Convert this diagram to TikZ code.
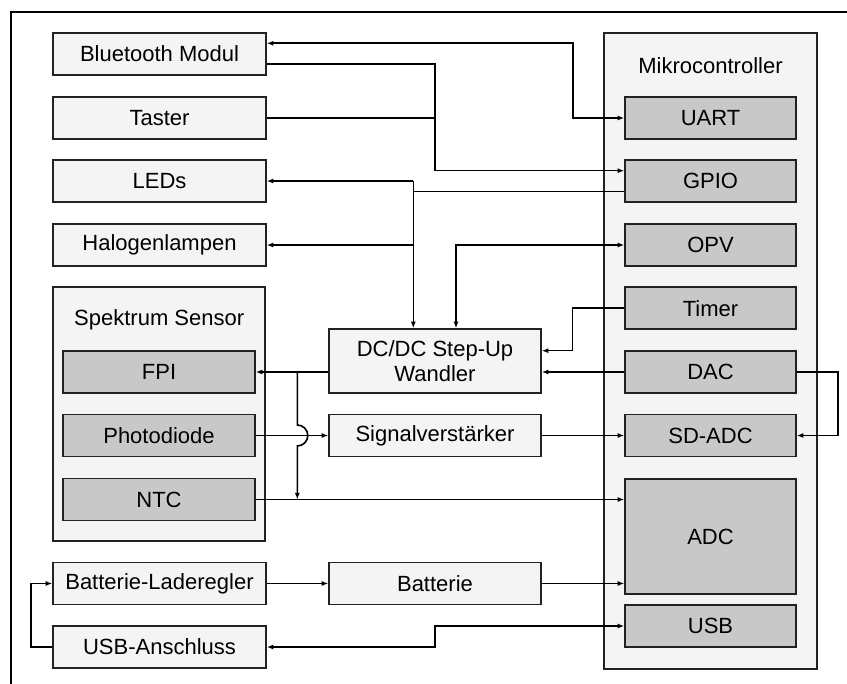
\documentclass[tikz,border=0pt]{standalone}
\usepackage{fontspec}
\setmainfont{Liberation Sans}
\usetikzlibrary{arrows.meta}
\definecolor{boxfill}{HTML}{F4F4F4}
\definecolor{partfill}{HTML}{C8C8C8}
\definecolor{edge}{HTML}{222222}
\begin{document}
\begin{tikzpicture}[x=1pt, y=1pt,
    every node/.style={font=\fontsize{22}{24.5}\selectfont},
    box/.style={draw=edge, line width=1.6pt, fill=boxfill, minimum width=213pt,
      minimum height=42pt, inner sep=0pt, align=center},
    part/.style={box, fill=partfill, minimum width=171pt},
    wire/.style={line width=1.6pt, >={Latex[length=6.5pt,width=5pt]}}]
  \useasboundingbox (0,0) rectangle (847,-684);
  % frame
  \draw[line width=2.4pt] (11,-684) -- (11,-12) -- (847,-12);

  % left column
  \foreach \name/\txt/\y in {bt/Bluetooth Modul/54, taster/Taster/118,
      leds/LEDs/181, halo/Halogenlampen/245, lade/Batterie-Laderegler/583.5,
      usbc/USB-Anschluss/647}
    \node[box] (\name) at (159.5,-\y) {\txt};

  % spectrum sensor
  \node[box, minimum width=212pt, minimum height=254pt] (spek) at (159.2,-414.2) {};
  \node (spektitle) at (159.2,-320) {Spektrum Sensor};
  \foreach \name/\txt/\y in {fpi/FPI/372, photo/Photodiode/435.5, ntc/NTC/499.5}
    \node[part, minimum width=192pt] (\name) at (159,-\y) {\txt};

  % middle
  \node[box, minimum width=212pt, minimum height=64pt] (dcdc) at (435,-361) {DC/DC Step-Up\\Wandler};
  \node[box, minimum width=212pt] (sig) at (435,-435.5) {Signalverstärker};
  \node[box, minimum width=212pt] (bat) at (435,-583.5) {Batterie};

  % microcontroller
  \node[box, minimum height=636pt] (mc) at (710.5,-351) {};
  \node (mctitle) at (710.5,-66) {Mikrocontroller};
  \foreach \name/\txt/\y in {uart/UART/118, gpio/GPIO/181, opv/OPV/245,
      timer/Timer/308.3, dac/DAC/372, sdadc/SD-ADC/435.5, usb/USB/626}
    \node[part] (\name) at (710.5,-\y) {\txt};
  \node[part, minimum height=115pt] (adc) at (710.5,-536.5) {ADC};

  % connections
  \draw[wire,<->] ([yshift=10.7pt]bt.east) -| (572.7,-118) -- (uart.west);
  \draw[wire,->] ([yshift=-10.3pt]bt.east) -| (434.7,-170.7) -- ([yshift=10.3pt]gpio.west);
  \draw[wire] (taster.east) -- (434.7,-118);

  \coordinate (bus) at ([xshift=-21.7pt]dcdc.north);
  \draw[wire,->] ([yshift=-10.7pt]gpio.west) -| (bus);
  \draw[wire] (bus |- leds.east) -- ++(0,-12);
  \draw[wire,->] (bus |- leds.east) -- (leds.east);
  \draw[wire,->] (bus |- halo.east) -- (halo.east);

  \draw[wire,<->] ([xshift=21pt]dcdc.north) |- (opv.west);
  \draw[wire,->] (timer.west) -| (572.3,-350.7) -- ([yshift=10.3pt]dcdc.east);
  \draw[wire,->] (dac.west) -- (dac.west -| dcdc.east);
  \draw[wire,->] (dcdc.west |- fpi.east) -- (fpi.east);

  \coordinate (tap) at (297.3,-372);
  \draw[wire,->] (tap) -- (297.3,-425) arc(90:-90:10.5) -- (tap |- ntc.east);

  \draw[wire,->] (photo.east) -- (sig.west);
  \draw[wire,->] (sig.east) -- (sdadc.west);
  \draw[wire,->] (dac.east) -- ++(41.3,0) |- (sdadc.east);
  \draw[wire,->] (ntc.east) -- (ntc.east -| adc.west);

  \draw[wire,->] (lade.east) -- (bat.west);
  \draw[wire,->] (bat.east) -- (bat.east -| adc.west);
  \draw[wire,<->] (usbc.east) -- ++(168,0) |- (usb.west);
  \draw[wire,->] (usbc.west) -- ++(-21,0) |- (lade.west);
\end{tikzpicture}
\end{document}
